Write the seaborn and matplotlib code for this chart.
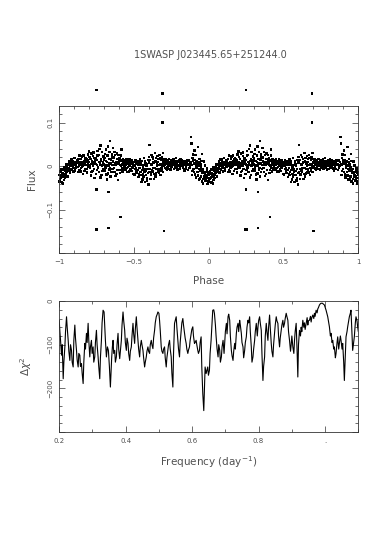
import numpy as np
import pandas as pd
import matplotlib
matplotlib.use("Agg")
import matplotlib.pyplot as plt
from matplotlib.ticker import MultipleLocator, FixedLocator, FixedFormatter
import seaborn as sns

title = "1SWASP J023445.65+251244.0"

# folded light curve, one cycle (phase 0..1); plotted twice (-1..0 and 0..1)
fold_phase = [
    .001, .005, .009, .013, .017, .022, .026, .029, .033, .037,
    .041, .045, .049, .053, .058, .061, .065, .069, .073, .077,
    .082, .085, .089, .093, .098, .101, .105, .110, .114, .118,
    .121, .125, .129, .133, .137, .141, .145, .149, .153, .158,
    .161, .165, .169, .173, .177, .181, .185, .189, .193, .197,
    .201, .205, .209, .213, .217, .221, .225, .229, .233, .237,
    .241, .245, .249, .253, .257, .261, .265, .269, .273, .277,
    .281, .285, .289, .293, .297, .301, .305, .309, .313, .317,
    .321, .325, .329, .333, .337, .341, .345, .349, .353, .357,
    .361, .365, .369, .373, .377, .381, .385, .389, .393, .397,
    .401, .405, .409, .413, .417, .421, .425, .429, .433, .437,
    .441, .445, .449, .453, .457, .461, .465, .469, .473, .477,
    .481, .485, .489, .493, .497, .501, .505, .509, .513, .517,
    .521, .525, .529, .533, .537, .541, .545, .549, .553, .557,
    .561, .565, .569, .573, .577, .581, .585, .589, .593, .597,
    .601, .605, .609, .613, .617, .621, .625, .629, .633, .637,
    .641, .645, .649, .653, .657, .661, .665, .669, .673, .677,
    .681, .685, .689, .693, .697, .701, .705, .709, .713, .717,
    .721, .725, .729, .733, .737, .741, .745, .749, .753, .757,
    .761, .765, .769, .773, .777, .781, .785, .789, .793, .797,
    .801, .805, .809, .813, .817, .821, .825, .829, .833, .837,
    .841, .846, .852, .857, .866, .872, .877,
    .881, .884, .888, .892, .896, .901, .905, .909, .913, .917,
    .921, .925, .929, .933, .937, .941, .945, .949, .953, .957,
    .961, .965, .969, .973, .977, .981, .985, .989, .993, .997,
    # second pass of the same cycle
    .003, .007, .011, .015, .019, .023, .027, .031, .035, .039,
    .043, .047, .051, .055, .059, .063, .067, .071, .075, .079,
    .083, .087, .091, .095, .099, .103, .107, .112, .116, .119,
    .123, .127, .131, .135, .139, .143, .147, .151, .155, .159,
    .163, .167, .171, .175, .179, .183, .187, .191, .195, .199,
    .203, .207, .211, .215, .219, .223, .227, .231, .235, .239,
    .243, .247, .251, .255, .259, .263, .267, .271, .275, .279,
    .283, .287, .291, .295, .299, .303, .307, .311, .315, .319,
    .323, .327, .331, .335, .339, .343, .347, .351, .355, .359,
    .363, .367, .371, .375, .379, .383, .387, .391, .395, .399,
    .403, .407, .411, .415, .419, .423, .427, .431, .435, .439,
    .443, .447, .451, .455, .459, .463, .467, .471, .475, .479,
    .483, .487, .491, .495, .499, .503, .507, .511, .515, .519,
    .523, .527, .531, .535, .539, .543, .547, .551, .555, .559,
    .563, .567, .571, .575, .579, .583, .587, .591, .595, .599,
    .603, .607, .611, .615, .619, .623, .627, .631, .635, .639,
    .643, .647, .651, .655, .659, .663, .667, .671, .675, .679,
    .683, .687, .691, .695, .699, .703, .707, .711, .715, .719,
    .723, .727, .731, .735, .739, .743, .747, .751, .755, .759,
    .763, .767, .771, .775, .779, .783, .787, .791, .795, .799,
    .803, .807, .811, .815, .819, .823, .827, .831, .835, .839,
    .843, .849, .855, .863, .869, .875,
    .883, .887, .891, .895, .899, .903, .907, .911, .915, .919,
    .923, .927, .931, .935, .939, .943, .947, .951, .955, .959,
    .963, .967, .971, .975, .979, .983, .987, .991, .995, .999,
]
fold_flux = [
    -.021, -.030, -.012, -.026, -.017, -.024, -.008, -.019, -.032, -.011,
    -.006, -.015, -.002, -.010, .003, .004, -.004, .008, .001, -.007,
    .006, .000, .011, -.003, .005, .002, .009, -.005, .004, .014,
    -.002, .007, .017, .001, -.009, .010, -.004, .004, .022, .006,
    .000, .012, -.011, .007, .019, .003, -.006, .013, .027, .002,
    .009, -.003, .016, .005, -.014, .011, .001, .031, -.007, .018,
    .006, -.018, .014, .002, .024, -.005, .010, .039, .003, -.026,
    .015, .001, -.011, .008, .022, .004, .028, -.003, .012, -.019,
    .009, .045, .000, .017, -.008, .058, .006, -.014, .021, .003,
    .011, -.004, .033, .007, -.023, .002, .016, -.009, .010, .025,
    .006, -.016, .013, .000, .038, .004, .011, -.006, .008, -.001,
    .009, .002, .015, -.004, .006, -.002, .007, .003, .012, -.008,
    .005, -.005, .009, .001, -.018, .003, .010, -.007, .006, -.012,
    -.016, .004, -.025, .008, -.004, .002, -.021, .012, -.009, -.031,
    -.003, .018, -.014, -.036, .006, -.011, .001, -.027, .014, -.042,
    .008, .048, -.006, -.019, .026, .003, -.012, .017, -.029, .009,
    -.004, .012, -.017, .006, .023, .010, -.008, .002, .019, -.021,
    .005, .014, -.003, .030, .008, .000, .009, .004, -.007, .013,
    .006, -.002, .010, .003, .000, .008, .001, -.005, .011, .004,
    .002, .009, .005, -.003, .012, .007, -.001, .004, .010, .001,
    .003, .011, -.004, .006, .014, .008, .001, .005, -.006, .009,
    .004, -.002, .007, .002, .005, -.004, .010,
    .067, .052, .002, -.011, .013, .006, .036, -.019, .009, -.003,
    .002, -.013, .044, -.006, .017, -.010, .004, -.024, .028, -.015,
    -.006, -.029, .011, -.018, -.033, -.013, -.024, -.004, -.035, -.019,
    # second pass
    -.035, -.014, -.027, -.006, -.038, -.016, -.040, -.003, -.022, -.027,
    -.020, .004, -.012, -.024, -.004, -.010, .012, -.015, .006, .015,
    -.008, .016, .003, -.012, .010, .018, -.010, .007, -.002, .011,
    .012, -.014, .005, .024, .003, -.012, .016, -.001, .009, -.018,
    .024, .004, .015, -.007, .010, .016, -.015, .006, -.002, .034,
    .021, .000, -.022, .029, .007, -.011, .023, .008, -.027, .013,
    .019, .005, -.009, .035, -.003, .026, -.014, .008, .047, .012,
    -.020, .033, .005, -.006, .014, .018, -.010, .038, .001, -.031,
    .024, -.017, .006, .033, -.004, -.024, .015, .027, -.006, .042,
    .020, .003, -.013, .026, .009, -.018, .029, .006, -.032, .013,
    .019, .003, -.009, .024, -.004, -.012, .017, .002, .013, -.008,
    .013, -.009, .005, -.014, .010, .011, -.012, .016, .000, .006,
    -.011, .013, -.003, .008, .002, -.019, .001, .014, -.004, .008,
    .011, -.009, .002, -.019, .015, -.013, .007, -.037, .003, -.018,
    -.024, .002, -.008, .011, -.020, .005, -.033, -.006, -.016, .021,
    -.013, .014, -.030, .004, -.010, .021, -.005, .008, -.018, .030,
    -.024, .018, -.007, .001, -.013, .016, -.015, .026, .004, -.004,
    -.010, .020, .002, -.014, .016, .012, -.004, .016, .006, -.009,
    .013, .004, -.007, .016, .008, -.008, .014, .005, -.002, .010,
    .015, -.006, .008, .001, .018, .012, .006, -.008, .003, .014,
    -.007, .008, .016, .000, .005, .014, -.004, .011, .003, -.010,
    .011, -.007, .013, -.009, .013, .001,
    .005, -.021, .018, .027, -.006, -.014, .014, .025, -.026, .004,
    .011, -.022, .001, -.031, .008, -.028, -.003, .012, -.035, -.009,
    -.040, -.014, -.024, .001, -.022, -.029, -.008, -.041, -.015, -.027,
]
# outlying points of the same cycle
outlier_phase = [0.248, 0.690, 0.690, 0.245, 0.252, 0.330, 0.410, 0.250, 0.330, 0.700]
outlier_flux = [0.175, 0.167, 0.100, -0.146, -0.146, -0.142, -0.117, -0.054, -0.059, -0.149]

# periodogram
freq = [
    .200, .202, .204, .207, .209, .212, .214, .217, .219, .222,
    .224, .227, .229, .232, .234, .237, .239, .242, .244, .247,
    .249, .252, .254, .257, .259, .262, .264, .267, .269, .272,
    .274, .277, .279, .282, .284, .287, .289, .292, .294, .297,
    .299, .302, .304, .307, .309, .312, .314, .317, .319, .322,
    .324, .327, .329, .332, .335, .337, .339, .342, .345, .348,
    .351, .354, .356, .358, .360, .362, .364, .367, .369, .372,
    .374, .377, .379, .382, .384, .387, .389, .392, .394, .397,
    .399, .402, .404, .407, .409, .412, .414, .417, .419, .422,
    .424, .427, .429, .432, .434, .437, .439, .442, .444, .447,
    .449, .452, .454, .457, .459, .462, .464, .467, .469, .472,
    .474, .477, .479, .482, .484, .487, .489, .492, .495, .497,
    .500, .502, .504, .507, .509, .512, .514, .517, .519, .522,
    .524, .527, .529, .532, .534, .537, .539, .542, .544, .547,
    .549, .552, .554, .557, .559, .562, .564, .567, .569, .572,
    .574, .577, .579, .582, .584, .587, .589, .592, .594, .597,
    .599, .602, .604, .607, .609, .612, .614, .617, .619, .622,
    .624, .627, .629, .632, .635, .637, .639, .642, .644, .647,
    .649, .652, .654, .657, .660, .662, .665, .667,
    .670, .672, .675, .678, .680, .683, .685, .688, .690, .693,
    .696, .698, .700, .703, .705, .708, .710, .713, .715, .718,
    .720, .723, .725, .728, .730, .733, .735, .738, .740, .743,
    .745, .748, .750, .753, .755, .758, .760, .763, .765, .768,
    .770, .773, .775, .778, .780, .783, .785, .788, .790, .793,
    .796, .798, .800, .803, .805, .808, .810, .813, .815, .818,
    .820, .823, .825, .828, .830, .833, .835, .838, .840, .843,
    .845, .848, .850, .853, .855, .858, .860, .863, .865, .868,
    .870, .873, .875, .878, .880, .883, .885, .888, .890, .893,
    .896, .898, .900, .903, .906, .908, .910, .913, .916, .918,
    .920, .923, .926, .928, .930, .933, .936, .938, .940, .943,
    .946, .948, .950, .953, .956, .958, .960, .963, .966, .968,
    .970, .973, .976, .978, .980, .983, .986, .988, .992, .995,
    .998, 1.003, 1.008, 1.011, 1.013, 1.016, 1.018, 1.021, 1.023, 1.026,
    1.028, 1.031, 1.033, 1.036, 1.038, 1.041, 1.043, 1.046, 1.048, 1.051,
    1.053, 1.056, 1.058, 1.061, 1.063, 1.066, 1.068, 1.071, 1.073, 1.076,
    1.078, 1.081, 1.083, 1.086, 1.088, 1.091, 1.093, 1.096, 1.098, 1.100,
]
dchi2 = [
    -44, -70, -90, -124, -100, -178, -140, -105, -70, -36,
    -60, -90, -115, -136, -100, -113, -140, -151, -90, -55,
    -85, -113, -135, -151, -120, -124, -150, -143, -165, -189,
    -140, -97, -110, -74, -95, -51, -90, -128, -105, -90,
    -120, -105, -140, -128, -95, -67, -100, -128, -150, -178,
    -130, -90, -50, -21, -25, -60, -90, -128, -105, -113,
    -150, -197, -160, -128, -105, -90, -120, -113, -140, -128,
    -100, -74, -110, -132, -115, -90, -55, -25, -45, -67,
    -95, -113, -85, -97, -120, -136, -115, -105, -80, -51,
    -75, -97, -65, -36, -60, -90, -110, -128, -105, -90,
    -100, -113, -130, -151, -140, -128, -115, -105, -115, -120,
    -100, -90, -100, -109, -85, -67, -50, -36, -30, -25,
    -28, -45, -67, -105, -115, -120, -110, -105, -130, -151,
    -130, -113, -100, -90, -110, -128, -165, -197, -120, -51,
    -45, -36, -60, -90, -110, -128, -95, -67, -50, -40,
    -55, -74, -85, -97, -110, -120, -112, -105, -90, -74,
    -65, -59, -80, -97, -95, -90, -100, -113, -120, -113,
    -95, -82, -150, -212, -251, -200, -151, -166, -160, -151,
    -170, -159, -120, -90, -50, -21, -20, -28,
    -55, -80, -110, -128, -100, -113, -140, -128, -105, -90,
    -120, -95, -70, -51, -75, -36, -30, -44, -80, -113,
    -125, -136, -115, -97, -110, -74, -60, -51, -70, -44,
    -55, -74, -95, -105, -130, -113, -95, -82, -60, -44,
    -50, -36, -70, -105, -140, -128, -110, -90, -70, -51,
    -80, -60, -45, -36, -50, -67, -120, -182, -150, -128,
    -80, -51, -70, -90, -60, -32, -60, -97, -115, -128,
    -100, -74, -55, -36, -45, -51, -80, -105, -85, -67,
    -55, -44, -60, -51, -40, -28, -35, -44, -70, -90,
    -115, -100, -80, -105, -120, -90, -70, -51, -120, -174,
    -100, -67, -80, -60, -70, -44, -60, -50, -65, -51,
    -38, -55, -45, -44, -35, -48, -38, -32, -40, -28,
    -35, -21, -27, -18, -15, -9, -6, -5, -5, -7,
    -9, -21, -36, -50, -59, -80, -74, -95, -90, -110,
    -105, -130, -120, -95, -82, -110, -97, -80, -90, -110,
    -97, -140, -182, -120, -82, -70, -59, -45, -36, -28,
    -21, -80, -113, -95, -82, -50, -36, -45, -59, -70,
]

sns.set_style("ticks")
plt.rcParams["font.family"] = ["DejaVu Sans"]
txt = "#505050"

fold = pd.DataFrame({"phase": fold_phase + outlier_phase,
                     "flux": fold_flux + outlier_flux})
both = pd.concat([fold.assign(phase=fold["phase"] - 1), fold], ignore_index=True)
pgram = pd.DataFrame({"freq": freq, "dchi2": dchi2})

fig = plt.figure(figsize=(3.82, 5.41), dpi=100)
ax1 = fig.add_axes([0.155, 0.532, 0.783, 0.272])
ax2 = fig.add_axes([0.155, 0.2015, 0.783, 0.242])

sns.scatterplot(data=both, x="phase", y="flux", ax=ax1, marker="s", s=3,
                color="black", edgecolor="none", linewidth=0, clip_on=False)
ax1.set_xlim(-1, 1)
ax1.set_ylim(-0.2, 0.138)
ax1.xaxis.set_major_locator(FixedLocator([-1, -0.5, 0, 0.5, 1]))
ax1.xaxis.set_major_formatter(FixedFormatter(["\u22121", "\u22120.5", "0", "0.5", "1"]))
ax1.xaxis.set_minor_locator(MultipleLocator(0.1))
ax1.yaxis.set_major_locator(FixedLocator([-0.2, -0.1, 0, 0.1]))
ax1.yaxis.set_major_formatter(FixedFormatter(["", "\u22120.1", "0", "0.1"]))
ax1.yaxis.set_minor_locator(MultipleLocator(0.02))
ax1.set_xlabel("Phase", color=txt, fontsize=7.5, labelpad=8)
ax1.set_ylabel("Flux", color=txt, fontsize=7.5, labelpad=8)

sns.lineplot(data=pgram, x="freq", y="dchi2", ax=ax2, color="black",
             linewidth=0.8, estimator=None, sort=False)
ax2.set_xlim(0.2, 1.1)
ax2.set_ylim(-300, 0)
ax2.xaxis.set_major_locator(FixedLocator([0.2, 0.4, 0.6, 0.8, 1.0]))
ax2.xaxis.set_major_formatter(FixedFormatter(["0.2", "0.4", "0.6", "0.8", "."]))
ax2.xaxis.set_minor_locator(MultipleLocator(0.1))
ax2.yaxis.set_major_locator(FixedLocator([-300, -200, -100, 0]))
ax2.yaxis.set_major_formatter(FixedFormatter(["", "\u2212200", "\u2212100", "0"]))
ax2.yaxis.set_minor_locator(MultipleLocator(20))
ax2.set_xlabel("Frequency (day$^{-1}$)", color=txt, fontsize=7.5, labelpad=8)
ax2.set_ylabel("$\\Delta\\chi^2$", color=txt, fontsize=7.5, labelpad=10)

for ax in (ax1, ax2):
    for sp in ax.spines.values():
        sp.set_visible(True)
        sp.set_linewidth(0.6)
        sp.set_color("#333333")
    ax.tick_params(which="both", direction="in", top=True, right=True,
                   width=0.5, color="#333333", labelsize=5, labelcolor=txt, pad=4)
    ax.tick_params(which="major", length=4)
    ax.tick_params(which="minor", length=2)
    for lab in ax.get_yticklabels():
        lab.set_rotation(90)
        lab.set_va("center")

fig.text(0.55, 0.898, title, ha="center", va="center", fontsize=7, color=txt)

fig.savefig("out.png", dpi=100)
